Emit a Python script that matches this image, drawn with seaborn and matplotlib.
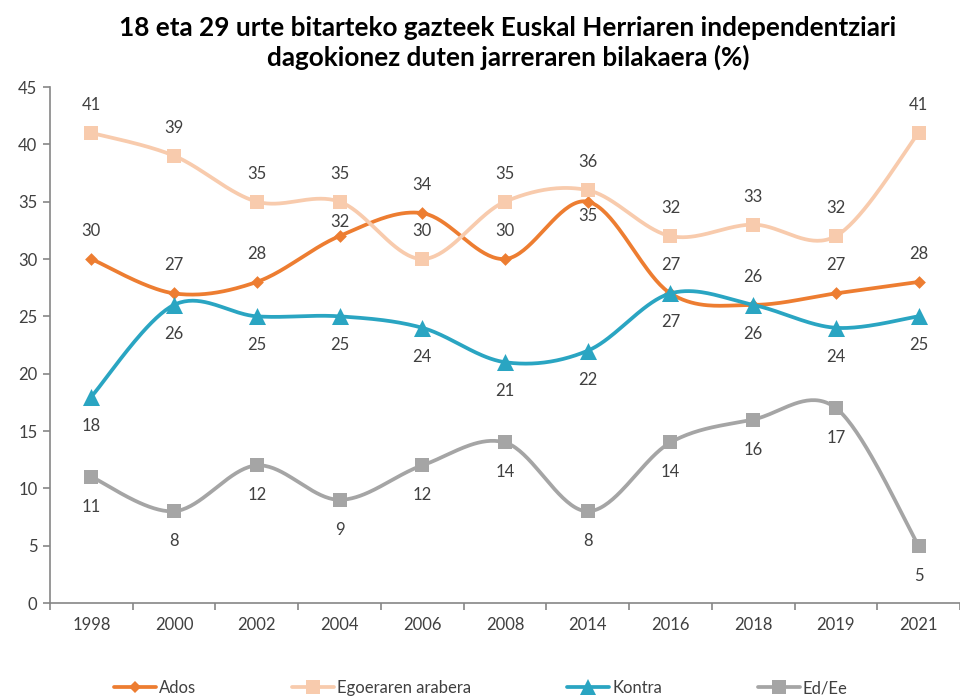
import numpy as np
import pandas as pd
import matplotlib
matplotlib.use("Agg")
import matplotlib.pyplot as plt
import seaborn as sns
from matplotlib.lines import Line2D

# ---------------- data ----------------
years = ["1998", "2000", "2002", "2004", "2006", "2008", "2014", "2016", "2018", "2019", "2021"]
ados = [30, 27, 28, 32, 34, 30, 35, 27, 26, 27, 28]
egoera = [41, 39, 35, 35, 30, 35, 36, 32, 33, 32, 41]
kontra = [18, 26, 25, 25, 24, 21, 22, 27, 26, 24, 25]
edee = [11, 8, 12, 9, 12, 14, 8, 14, 16, 17, 5]
series_names = ["Ados", "Egoeraren arabera", "Kontra", "Ed/Ee"]
yticks = [0, 5, 10, 15, 20, 25, 30, 35, 40, 45]
title = "18 eta 29 urte bitarteko gazteek Euskal Herriaren independentziari\ndagokionez duten jarreraren bilakaera (%)"

# ---------------- style ----------------
colors = ["#ED7D31", "#F8CBAD", "#2AA5C2", "#A5A5A5"]
markers = ["D", "s", "^", "s"]
msizes = [42, 110, 150, 110]
# label offsets in pixels (negative = above)
label_side = [-28, -28, 29, 30]
special = {(0, 3): -14, (0, 6): 14}

sns.set_theme(style="white")
plt.rcParams["font.family"] = ["Lato", "DejaVu Sans"]
DPI = 100
fig = plt.figure(figsize=(9.6, 6.97), dpi=DPI)
ax = fig.add_axes([50 / 960, (697 - 603) / 697, 1 - 50 / 960, (603 - 87) / 697])


def smooth(vals, n=40):
    x = np.arange(len(vals), dtype=float)
    y = np.asarray(vals, dtype=float)
    P = np.column_stack([x, y])
    xs, ys = [], []
    for i in range(len(P) - 1):
        p0 = P[max(i - 1, 0)]
        p1 = P[i]
        p2 = P[i + 1]
        p3 = P[min(i + 2, len(P) - 1)]
        c1 = p1 + (p2 - p0) / 6.0
        c2 = p2 - (p3 - p1) / 6.0
        t = np.linspace(0, 1, n, endpoint=(i == len(P) - 2))[:, None]
        B = ((1 - t) ** 3) * p1 + 3 * ((1 - t) ** 2) * t * c1 + 3 * (1 - t) * t ** 2 * c2 + t ** 3 * p2
        xs.append(B[:, 0])
        ys.append(B[:, 1])
    return np.concatenate(xs), np.concatenate(ys)


all_vals = [ados, egoera, kontra, edee]
frames = []
for name, vals in zip(series_names, all_vals):
    sx, sy = smooth(vals)
    frames.append(pd.DataFrame({"x": sx, "y": sy, "series": name}))
df = pd.concat(frames, ignore_index=True)

for k, (name, vals) in enumerate(zip(series_names, all_vals)):
    sub = df[df["series"] == name]
    sns.lineplot(data=sub, x="x", y="y", color=colors[k], linewidth=2.7,
                 sort=False, estimator=None, ax=ax, legend=False, zorder=2 + k)
    sns.scatterplot(x=np.arange(len(vals)), y=vals, marker=markers[k], s=msizes[k],
                    color=colors[k], edgecolor=colors[k], linewidth=0, ax=ax,
                    legend=False, zorder=2.5 + k)
    for i, v in enumerate(vals):
        off = special.get((k, i), label_side[k])
        ax.annotate(str(v), (i, v), xytext=(0, -off * 72 / DPI), textcoords="offset points",
                    ha="center", va="center", fontsize=12, color="#404040", zorder=10)

ax.set_xlim(-0.5, len(years) - 0.5 - 0.06)
ax.set_ylim(0, 45)
ax.set_yticks(yticks)
ax.set_xticks(range(len(years)))
ax.set_xticklabels(years)
ax.set_xticks(np.arange(-0.5, len(years), 1.0), minor=True)
ax.set_xlabel("")
ax.set_ylabel("")
ax.tick_params(axis="x", which="major", length=0, pad=10, labelsize=12, labelcolor="#404040")
ax.tick_params(axis="x", which="minor", length=5, width=1.2, color="#868686", direction="out", bottom=True)
ax.tick_params(axis="y", which="major", length=5, width=1.2, color="#868686", direction="out", left=True,
               pad=4, labelsize=12, labelcolor="#404040")
for s in ["top", "right"]:
    ax.spines[s].set_visible(False)
for s in ["left", "bottom"]:
    ax.spines[s].set_color("#868686")
    ax.spines[s].set_linewidth(1.2)

fig.text(508 / 960, 1 - 43 / 697, title, ha="center", va="center", fontsize=18.8,
         fontweight="bold", color="#000000", linespacing=1.2)

handles = [Line2D([0], [0], color=colors[k], lw=2.7, marker=markers[k],
                  markersize=[6, 10, 11, 10][k], markeredgewidth=0)
           for k in range(4)]
fig.legend(handles, series_names, loc="center", bbox_to_anchor=(481 / 960, (697 - 688) / 697),
           ncol=4, frameon=False, fontsize=12, handlelength=2.5, handletextpad=0.2,
           columnspacing=5.75, labelcolor="#404040")

fig.savefig("out.png", dpi=DPI)
